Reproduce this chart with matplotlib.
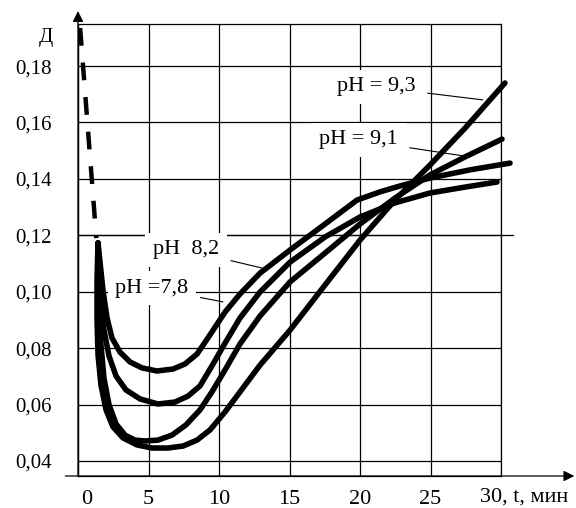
import matplotlib
matplotlib.use("Agg")
import matplotlib.pyplot as plt
import matplotlib.transforms as mtransforms

plt.rcParams["font.family"] = ["Liberation Serif", "DejaVu Serif"]

# time axis, minutes
t_ticks = [0, 5, 10, 15, 20, 25, 30]
t_labels = ["0", "5", "10", "15", "20", "25", ""]
# optical density ticks
d_ticks = [0.04, 0.06, 0.08, 0.10, 0.12, 0.14, 0.16, 0.18]
d_labels = ["0,04", "0,06", "0,08", "0,10", "0,12", "0,14", "0,16", "0,18"]

# dashed initial part
t_dash = [0.15, 1.3]
d_dash = [0.1935, 0.119]

# pH = 7,8
t_78 = [1.42, 1.56, 1.77, 2.06, 2.41, 2.98, 3.69, 4.54, 5.60, 6.74, 7.59,
        8.44, 9.36, 10.43, 11.49, 12.91, 15.04, 17.52, 19.79, 21.42, 22.84,
        24.96, 27.80, 30.64]
d_78 = [0.1173, 0.1105, 0.1006, 0.0907, 0.0836, 0.0786, 0.0751, 0.0730,
        0.0719, 0.0726, 0.0744, 0.0779, 0.0847, 0.0928, 0.0992, 0.1066,
        0.1148, 0.1240, 0.1325, 0.1354, 0.1375, 0.1403, 0.1432, 0.1456]

# pH = 8,2
t_82 = [1.42, 1.49, 1.63, 1.84, 2.20, 2.70, 3.40, 4.40, 5.67, 6.88, 7.80,
        8.65, 9.50, 10.43, 11.49, 12.91, 15.04, 17.52, 20.0, 22.48, 24.96,
        27.45, 29.72]
d_82 = [0.1173, 0.1084, 0.0971, 0.0864, 0.0772, 0.0701, 0.0652, 0.0620,
        0.0602, 0.0609, 0.0630, 0.0666, 0.0737, 0.0818, 0.0907, 0.0999,
        0.1105, 0.1194, 0.1265, 0.1315, 0.1350, 0.1371, 0.1389]

# pH = 9,1
t_91 = [1.42, 1.42, 1.49, 1.63, 1.84, 2.20, 2.70, 3.33, 4.04, 4.75, 5.67,
        6.67, 7.66, 8.65, 9.50, 10.43, 11.49, 12.91, 15.04, 17.52, 20.0,
        22.48, 24.96, 27.45, 30.07]
d_91 = [0.1173, 0.1059, 0.0935, 0.0811, 0.0694, 0.0599, 0.0531, 0.0492,
        0.0474, 0.0471, 0.0474, 0.0492, 0.0528, 0.0581, 0.0645, 0.0723,
        0.0815, 0.0914, 0.1035, 0.1137, 0.1240, 0.1332, 0.1414, 0.1478,
        0.1541]

# pH = 9,3
t_93 = [1.42, 1.35, 1.35, 1.42, 1.63, 1.99, 2.48, 3.19, 4.18, 5.25, 6.38,
        7.45, 8.44, 9.36, 10.43, 11.49, 12.91, 15.04, 17.52, 20.0, 22.48,
        24.96, 27.45, 30.28]
d_93 = [0.1173, 0.1042, 0.0900, 0.0776, 0.0669, 0.0581, 0.0521, 0.0482,
        0.0457, 0.0446, 0.0446, 0.0453, 0.0474, 0.0510, 0.0574, 0.0645,
        0.0740, 0.0864, 0.1024, 0.1183, 0.1325, 0.1449, 0.1580, 0.1740]

fig = plt.figure(figsize=(5.76, 5.08), dpi=100)
ax = fig.add_axes([78 / 576, 1 - 476 / 508, 423 / 576, 452 / 508])
ax.set_xlim(0, 30)
ax.set_ylim(0.03468, 0.19491)

ax.set_xticks(t_ticks)
ax.set_xticklabels(t_labels, fontsize=16)
ax.set_yticks(d_ticks)
ax.set_yticklabels(d_labels, fontsize=15)
ax.tick_params(length=0)
ax.tick_params(axis="x", pad=10)
ax.tick_params(axis="y", pad=19)
ax.grid(True, color="black", lw=0.9, zorder=1)
ax.set_axisbelow(True)
for s in ax.spines.values():
    s.set_linewidth(0.9)

# nudge "0" to the right like the original
off = mtransforms.ScaledTranslation(9 / 100, 0, fig.dpi_scale_trans)
lbl0 = ax.get_xticklabels()[0]
lbl0.set_transform(lbl0.get_transform() + off)

# axes arrows and the long 0,12 line
ax.annotate("", xy=(35.2, 0.03468), xytext=(-0.9, 0.03468),
            arrowprops=dict(arrowstyle="-|>", color="black", lw=0.9,
                            mutation_scale=16, shrinkA=0, shrinkB=0),
            annotation_clip=False)
ax.annotate("", xy=(0, 0.1995), xytext=(0, 0.03468),
            arrowprops=dict(arrowstyle="-|>", color="black", lw=0.9,
                            mutation_scale=16, shrinkA=0, shrinkB=0),
            annotation_clip=False)
ax.plot([0, 30.85], [0.12, 0.12], color="black", lw=0.9, clip_on=False,
        zorder=1)

ax.text(-2.3, 0.19, "Д", fontsize=15, ha="center", va="center")
ax.text(28.5, 0.0272, "30, t, мин", fontsize=16, ha="left", va="center",
        clip_on=False)

# curves
ax.plot(t_dash, d_dash, color="black", lw=3.2, dashes=(4.0, 3.8),
        clip_on=False, zorder=4)
for tt, dd in [(t_78, d_78), (t_82, d_82), (t_91, d_91), (t_93, d_93)]:
    ax.plot(tt, dd, color="black", lw=4.0, solid_capstyle="round",
            solid_joinstyle="round", clip_on=False, zorder=4)

# labels with leaders
box = dict(boxstyle="square,pad=0.35", fc="white", ec="none")
lead = dict(arrowstyle="-", color="black", lw=0.8, shrinkA=3, shrinkB=0)
for txt, xy, xyt in [("pH = 9,3", (28.72, 0.168), (21.17, 0.1726)),
                     ("pH = 9,1", (27.8, 0.1478), (19.89, 0.1538)),
                     ("pH  8,2", (13.05, 0.1084), (7.66, 0.1148)),
                     ("pH =7,8", (10.28, 0.0964), (5.25, 0.1013))]:
    ax.annotate(txt, xy=xy, xytext=xyt, fontsize=16, ha="center",
                va="center", bbox=box, arrowprops=lead, zorder=3)

fig.savefig("out.png", dpi=100)
